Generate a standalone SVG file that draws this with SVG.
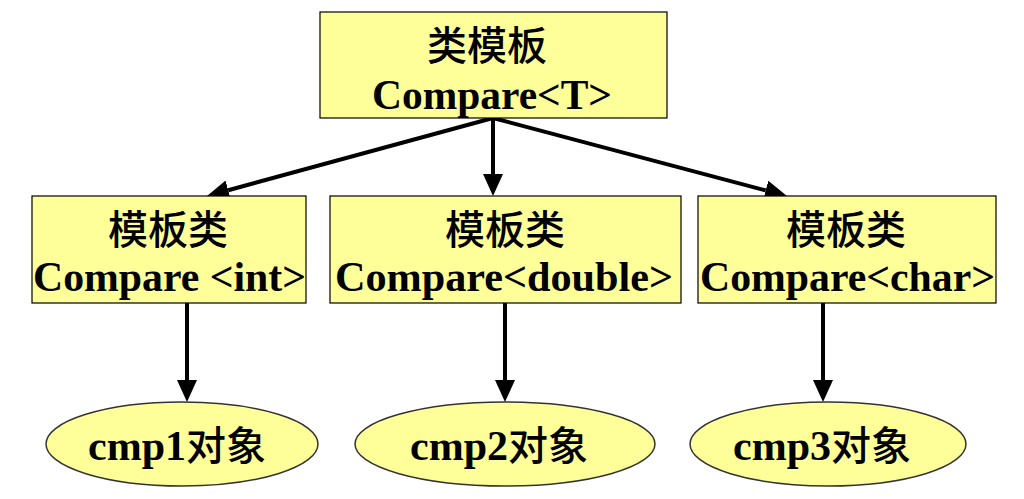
<svg xmlns="http://www.w3.org/2000/svg" width="1024" height="499" viewBox="0 0 1024 499">
<style>
.box{fill:#FFFF99;stroke:#000;stroke-width:1.2}
.ell{fill:#FFFF99;stroke:#333;stroke-width:1.5}
.cn{font-family:"Noto Sans CJK SC","Noto Sans CJK JP",sans-serif;font-weight:500;font-size:40px;fill:#000;text-anchor:middle}
.en{font-family:"Liberation Serif","Noto Sans CJK SC",serif;font-weight:bold;font-size:42px;fill:#000}
.cj{font-family:"Noto Sans CJK SC",sans-serif;font-weight:500}
.ln{stroke:#000;stroke-width:4;fill:none;marker-end:url(#ah)}
</style>
<defs>
<marker id="ah" markerUnits="userSpaceOnUse" markerWidth="22" markerHeight="20" viewBox="0 0 22 20" refX="0" refY="10" orient="auto">
<path d="M0,0 L22,10 L0,20 z" fill="#000"/>
</marker>
</defs>
<rect width="1024" height="499" fill="#fff"/>
<g id="connectors">
<line class="ln" x1="493" y1="118" x2="228.2" y2="190.2"/>
<line class="ln" x1="493" y1="118" x2="493" y2="174"/>
<line class="ln" x1="493" y1="118" x2="765.7" y2="190.4"/>
<line class="ln" x1="187" y1="303" x2="187" y2="380"/>
<line class="ln" x1="505" y1="303" x2="505" y2="380"/>
<line class="ln" x1="823" y1="303" x2="823" y2="380"/>
</g>
<g id="template">
<rect class="box" x="320" y="12" width="347" height="106"/>
<text class="cn" x="487" y="60" font-size="38">类模板</text>
<text class="en" x="372" y="109" textLength="240" lengthAdjust="spacingAndGlyphs">Compare&lt;T&gt;</text>
</g>
<g id="cls-int">
<rect class="box" x="32" y="196" width="274" height="107"/>
<text class="cn" x="168" y="244">模板类</text>
<text class="en" x="33" y="291" textLength="273" lengthAdjust="spacingAndGlyphs">Compare &lt;int&gt;</text>
</g>
<g id="cls-double">
<rect class="box" x="330" y="196" width="351" height="107"/>
<text class="cn" x="505" y="244">模板类</text>
<text class="en" x="335" y="291" textLength="338" lengthAdjust="spacingAndGlyphs">Compare&lt;double&gt;</text>
</g>
<g id="cls-char">
<rect class="box" x="698" y="196" width="298" height="107"/>
<text class="cn" x="846" y="244">模板类</text>
<text class="en" x="700" y="291" textLength="295" lengthAdjust="spacingAndGlyphs">Compare&lt;char&gt;</text>
</g>
<g id="obj1">
<ellipse class="ell" cx="182" cy="444" rx="136" ry="42"/>
<text class="en" x="88" y="460">cmp1<tspan class="cj" font-size="40">对象</tspan></text>
</g>
<g id="obj2">
<ellipse class="ell" cx="505" cy="444" rx="150" ry="42"/>
<text class="en" x="410" y="460">cmp2<tspan class="cj" font-size="40">对象</tspan></text>
</g>
<g id="obj3">
<ellipse class="ell" cx="828" cy="444" rx="138" ry="42"/>
<text class="en" x="733" y="460">cmp3<tspan class="cj" font-size="40">对象</tspan></text>
</g>
</svg>
